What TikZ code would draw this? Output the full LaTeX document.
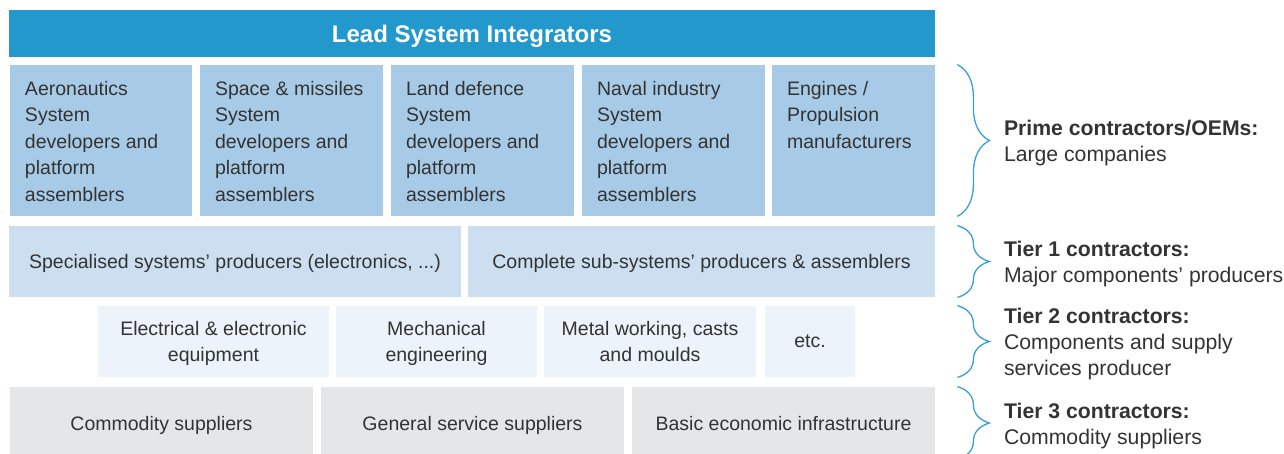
\documentclass[tikz,border=0pt]{standalone}
\usepackage{fontspec}
\setmainfont{Liberation Sans}
\usepackage{tikz}
\usetikzlibrary{positioning}
\usetikzlibrary{decorations.pathreplacing}
\usepackage{xcolor}
\definecolor{leadblue}{RGB}{35,152,204}
\definecolor{primefill}{RGB}{167,203,230}
\definecolor{tieronefill}{RGB}{203,223,240}
\definecolor{tiertwofill}{RGB}{237,243,250}
\definecolor{tierthreefill}{RGB}{229,230,232}
\definecolor{bracecol}{RGB}{58,159,214}
\definecolor{inktext}{RGB}{51,51,51}
\newcommand\px{0.5pt}
\tikzset{
	cell/.style 2 args={inner sep=0, minimum width=#1*\px, minimum height=#2*\px, text depth=0pt},
	celltext/.style={inner sep=0, align=center, text=inktext, font=\fontsize{9.75}{13.25}\selectfont},
	tierbrace/.style={decorate, decoration={brace, amplitude=16pt}, draw=bracecol, line width=0.65pt},
	tierlabel/.style={anchor=west, xshift=23pt, yshift=-1.5pt, inner sep=0, align=left, text=inktext, font=\fontsize{10.6}{13}\selectfont}
}

\begin{document}
\begin{tikzpicture}[x=0.5pt, y=-0.5pt]
	\useasboundingbox (0,0) rectangle (1284,454);
	% top bar
	\node[cell={926}{47}, fill=leadblue, text=white, font=\fontsize{12}{14}\selectfont\bfseries] (lead) at (472,33.5) {Lead System Integrators};
	% prime contractors
	\node[cell={182}{151}, fill=primefill] (aero) at (101,140.5) {};
	\node[cell={183}{151}, fill=primefill] (space) at (291.5,140.5) {};
	\node[cell={183}{151}, fill=primefill] (land) at (482.5,140.5) {};
	\node[cell={183}{151}, fill=primefill] (naval) at (673.5,140.5) {};
	\node[cell={163}{151}, fill=primefill] (eng) at (853.5,140.5) {};
	\node[celltext, align=left, anchor=north west] (aero-t) at ([xshift=7.5pt,yshift=-8pt]aero.north west) {Aeronautics\\System\\developers and\\platform\\assemblers};
	\node[celltext, align=left, anchor=north west] (space-t) at ([xshift=7.5pt,yshift=-8pt]space.north west) {Space \& missiles\\System\\developers and\\platform\\assemblers};
	\node[celltext, align=left, anchor=north west] (land-t) at ([xshift=7.5pt,yshift=-8pt]land.north west) {Land defence\\System\\developers and\\platform\\assemblers};
	\node[celltext, align=left, anchor=north west] (naval-t) at ([xshift=7.5pt,yshift=-8pt]naval.north west) {Naval industry\\System\\developers and\\platform\\assemblers};
	\node[celltext, align=left, anchor=north west] (eng-t) at ([xshift=7.5pt,yshift=-8pt]eng.north west) {Engines /\\Propulsion\\manufacturers};
	% tier 1
	\node[cell={452}{71}, fill=tieronefill, celltext] (spec) at (235,261.5) {Specialised systems’ producers (electronics, ...)};
	\node[cell={467}{71}, fill=tieronefill, celltext] (comp) at (701.5,261.5) {Complete sub-systems’ producers \& assemblers};
	% tier 2
	\node[cell={231}{71}, fill=tiertwofill, celltext] (elec) at (213.5,341.5) {Electrical \& electronic\\equipment};
	\node[cell={201}{71}, fill=tiertwofill, celltext] (mech) at (436.5,341.5) {Mechanical\\engineering};
	\node[cell={212}{71}, fill=tiertwofill, celltext] (metal) at (650,341.5) {Metal working, casts\\and moulds};
	\node[cell={90}{71}, fill=tiertwofill, celltext] (etc) at (810,341.5) {etc.};
	% tier 3
	\node[cell={303}{72}, fill=tierthreefill, celltext] (commod) at (161.5,423) {Commodity suppliers};
	\node[cell={303}{72}, fill=tierthreefill, celltext] (general) at (472.5,423) {General service suppliers};
	\node[cell={303}{72}, fill=tierthreefill, celltext] (basic) at (783.5,423) {Basic economic infrastructure};
	% braces and tier labels
	\draw[tierbrace] ([xshift=11pt]eng.north east) -- node[tierlabel] (prime) {\textbf{Prime contractors/OEMs:}\\Large companies} ([xshift=11pt]eng.south east);
	\draw[tierbrace] ([xshift=11pt]comp.north east) -- node[tierlabel] (tierone) {\textbf{Tier 1 contractors:}\\Major components’ producers} ([xshift=11pt]comp.south east);
	\draw[tierbrace] ([xshift=51pt]etc.north east) -- node[tierlabel] (tiertwo) {\textbf{Tier 2 contractors:}\\Components and supply\\services producer} ([xshift=51pt]etc.south east);
	\draw[tierbrace] ([xshift=11pt]basic.north east) -- node[tierlabel] (tierthree) {\textbf{Tier 3 contractors:}\\Commodity suppliers} ([xshift=11pt]basic.south east);
\end{tikzpicture}
\end{document}
